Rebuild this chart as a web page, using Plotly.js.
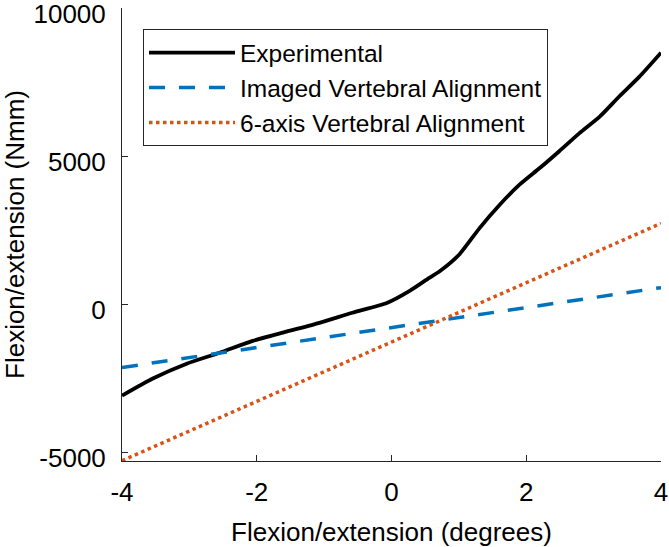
<!DOCTYPE html>
<html>
<head>
<meta charset="utf-8">
<script src="https://cdn.plot.ly/plotly-3.0.1.min.js"></script>
<style>
  html, body { margin: 0; padding: 0; background: #fff; }
  #chart { width: 669px; height: 547px; }
</style>
</head>
<body>
<div id="chart"></div>
<script>
// flexion/extension angle (degrees) vs moment (Nmm)
let expX = [-4, -3.55, -3.04, -2.55, -2.06, -1.56, -1.07, -0.58, -0.07, 0.27, 0.56, 0.72, 1.01, 1.31, 1.61, 1.90, 2.20, 2.49, 2.79, 3.09, 3.38, 3.68, 4]
let expY = [-3090, -2520, -2010, -1640, -1240, -930, -630, -290, 40, 450, 890, 1120, 1690, 2580, 3370, 4040, 4600, 5170, 5780, 6340, 7020, 7690, 8500]

let imagedX = [-4, 4]
let imagedY = [-2140, 560]

let sixAxisX = [-4, 4]
let sixAxisY = [-5290, 2730]

let names = ["Experimental", "Imaged Vertebral Alignment", "6-axis Vertebral Alignment"]
let xTicks = [-4, -2, 0, 2, 4]
let xTickText = ["-4", "-2", "0", "2", "4"]
let yTicks = [-5000, 0, 5000, 10000]
let yTickText = ["-5000", "0", "5000", "10000"]

let font = "Liberation Sans, Arial, Helvetica, sans-serif"
let ink = "#262626"

let data = [
  {x: expX, y: expY, name: names[0], mode: "lines",
   line: {color: "#000000", width: 3.8, shape: "spline", smoothing: 0.6}},
  {x: imagedX, y: imagedY, name: names[1], mode: "lines",
   line: {color: "#0072BD", width: 3.5, dash: "16px,14px"}},
  {x: sixAxisX, y: sixAxisY, name: names[2], mode: "lines",
   line: {color: "#D95319", width: 3.5, dash: "dot"}}
]

let layout = {
  width: 669,
  height: 547,
  margin: {l: 122, r: 8, t: 8, b: 86},
  paper_bgcolor: "#ffffff",
  plot_bgcolor: "#ffffff",
  font: {family: font, size: 26, color: "#000000"},
  showlegend: true,
  legend: {
    x: 0.039, y: 0.953, xanchor: "left", yanchor: "top",
    bgcolor: "#ffffff", bordercolor: ink, borderwidth: 1,
    font: {family: font, size: 24.5, color: "#000000"},
    itemwidth: 86
  },
  xaxis: {
    title: {text: "Flexion/extension (degrees)", font: {size: 26}, standoff: 16},
    range: [-4, 4], tickvals: xTicks, ticktext: xTickText,
    showline: true, linecolor: ink, linewidth: 1, mirror: false,
    ticks: "inside", ticklen: 6, tickcolor: ink,
    showgrid: false, zeroline: false, ticklabelstandoff: 8,
    ticklabeloverflow: "allow"
  },
  yaxis: {
    title: {text: "Flexion/extension (Nmm)", font: {size: 26}, standoff: 8},
    range: [-5300, 10010], tickvals: yTicks, ticktext: yTickText,
    showline: true, linecolor: ink, linewidth: 1, mirror: false,
    ticks: "inside", ticklen: 6, tickcolor: ink,
    showgrid: false, zeroline: false, ticklabelstandoff: 10,
    ticklabelshift: 6, ticklabeloverflow: "allow"
  }
}

Plotly.newPlot("chart", data, layout, {displayModeBar: false, staticPlot: true})
</script>
</body>
</html>
